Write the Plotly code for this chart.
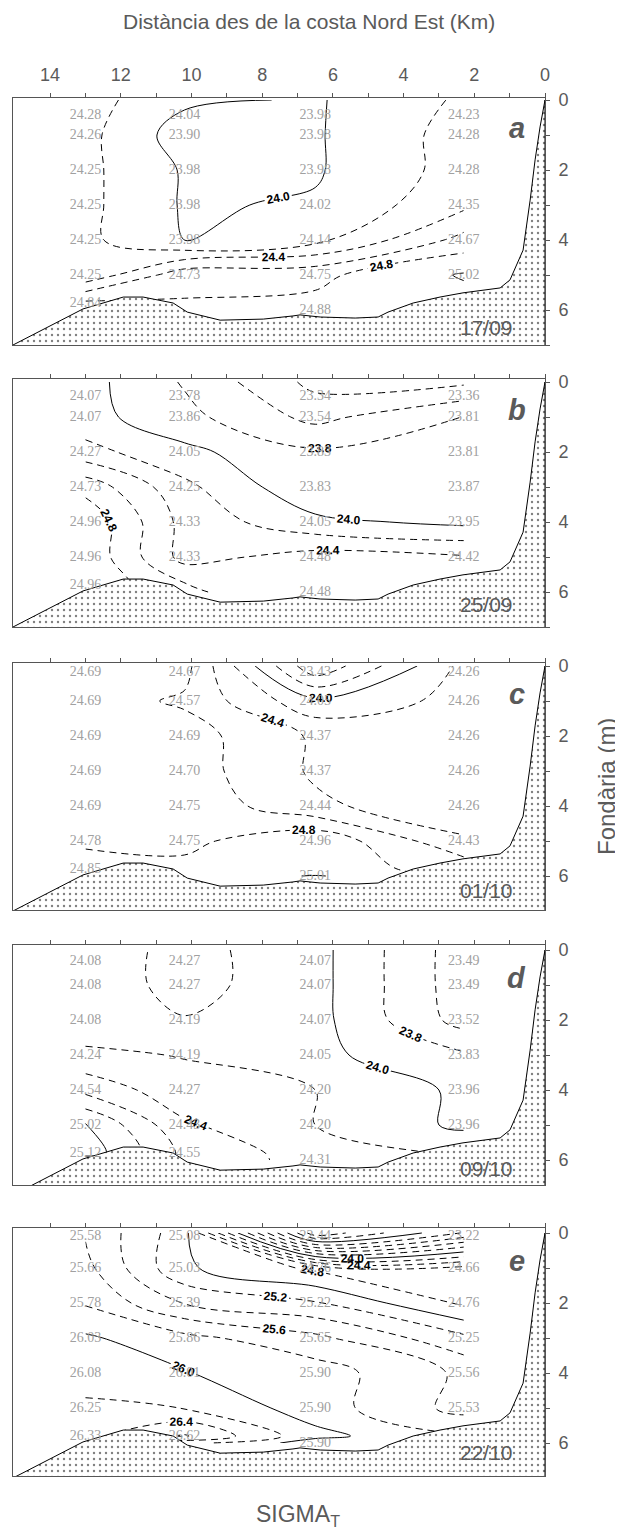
import math
import plotly.graph_objects as go

# ---------------- data ----------------
STATIONS_KM = [13.0, 10.2, 6.5, 2.3]

A_DEPTHS = [[0, 1, 2, 3, 4, 5, 5.8], [0, 1, 2, 3, 4, 5], [0, 1, 2, 3, 4, 5, 6], [0, 1, 2, 3, 4, 5]]
A_SIGMA = [[24.28, 24.26, 24.25, 24.25, 24.25, 24.25, 24.84],
           [24.04, 23.90, 23.98, 23.98, 23.98, 24.73],
           [23.98, 23.98, 23.98, 24.02, 24.14, 24.75, 24.88],
           [24.23, 24.28, 24.28, 24.35, 24.67, 25.02]]

B_DEPTHS = [[0, 1, 2, 3, 4, 5, 5.8], [0, 1, 2, 3, 4, 5], [0, 1, 2, 3, 4, 5, 6], [0, 1, 2, 3, 4, 5]]
B_SIGMA = [[24.07, 24.07, 24.27, 24.73, 24.96, 24.96, 24.96],
           [23.78, 23.86, 24.05, 24.25, 24.33, 24.33],
           [23.34, 23.54, 23.83, 23.83, 24.05, 24.48, 24.48],
           [23.36, 23.81, 23.81, 23.87, 23.95, 24.42]]

C_DEPTHS = [[0, 1, 2, 3, 4, 5, 5.8], [0, 1, 2, 3, 4, 5], [0, 1, 2, 3, 4, 5, 6], [0, 1, 2, 3, 4, 5]]
C_SIGMA = [[24.69, 24.69, 24.69, 24.69, 24.69, 24.78, 24.85],
           [24.67, 24.57, 24.69, 24.70, 24.75, 24.75],
           [23.43, 24.05, 24.37, 24.37, 24.44, 24.96, 25.01],
           [24.26, 24.26, 24.26, 24.26, 24.26, 24.43]]

D_DEPTHS = [[0, 1, 2, 3, 4, 5, 5.8], [0, 1, 2, 3, 4, 5, 5.8], [0, 1, 2, 3, 4, 5, 6], [0, 1, 2, 3, 4, 5]]
D_SIGMA = [[24.08, 24.08, 24.08, 24.24, 24.54, 25.02, 25.12],
           [24.27, 24.27, 24.19, 24.19, 24.27, 24.43, 24.55],
           [24.07, 24.07, 24.07, 24.05, 24.20, 24.20, 24.31],
           [23.49, 23.49, 23.52, 23.83, 23.96, 23.96]]

E_DEPTHS = [[0, 1, 2, 3, 4, 5, 5.8], [0, 1, 2, 3, 4, 5.8], [0, 1, 2, 3, 4, 5, 6], [0, 1, 2, 3, 4, 5]]
E_SIGMA = [[25.58, 25.66, 25.78, 26.03, 26.08, 26.25, 26.33],
           [25.08, 25.03, 25.39, 25.86, 26.01, 26.62],
           [22.44, 24.76, 25.22, 25.65, 25.90, 25.90, 25.90],
           [23.22, 24.66, 24.76, 25.25, 25.56, 25.53]]

LETTERS = ["a", "b", "c", "d", "e"]
DATES = ["17/09", "25/09", "01/10", "09/10", "22/10"]
LABELLED_LEVELS = [[24.0, 24.4, 24.8],
                   [23.8, 24.0, 24.4, 24.8],
                   [24.0, 24.4, 24.8],
                   [23.8, 24.0, 24.4],
                   [24.0, 24.4, 24.8, 25.2, 25.6, 26.0, 26.4]]

# sea bottom profile (km from NE coast, depth m)
BOTTOM_KM = [15.05, 13.07, 11.93, 11.37, 10.52, 10.12, 9.19, 7.97, 7.13, 6.93, 6.36, 5.37,
             4.72, 4.44, 3.73, 2.97, 2.32, 1.27, 0.99, 0.62, 0.42, 0.28, 0.14, 0.0]
BOTTOM_DEPTH = [7.0, 5.97, 5.63, 5.63, 5.8, 6.06, 6.29, 6.26, 6.17, 6.14, 6.2, 6.23,
                6.2, 6.06, 5.8, 5.63, 5.51, 5.37, 5.14, 4.29, 2.86, 1.71, 0.77, 0.0]

X_MAJOR = [0, 2, 4, 6, 8, 10, 12, 14]
X_MINOR = [1, 3, 5, 7, 9, 11, 13]
Y_MAJOR = [0, 2, 4, 6]
Y_MINOR = [1, 3, 5, 7]

# ---------------- layout geometry (reference pixel coords) ----------------
OFF = 8                      # page body margin of the rendered html
REF_W, REF_H = 623, 1535
W, H = REF_W - OFF, REF_H - OFF
PLOT_L, PLOT_R, PLOT_T, PLOT_B = 13, 545, 98, 1476
ML, MR, MT, MB = PLOT_L - OFF, REF_W - PLOT_R, PLOT_T - OFF, REF_H - PLOT_B
PH = PLOT_B - PLOT_T
PW = PLOT_R - PLOT_L
# (top px, bottom px, zero-depth px) per panel
PANEL_PX = [(98, 345, 100), (379, 627, 382), (663, 910, 666), (945, 1185, 950), (1228, 1476, 1233)]
PX_PER_M = 35.0
SURF_LABEL_DEPTH = [0.43, 0.40, 0.18, 0.32, 0.09]
DATE_Y = [6.5, 6.36, 6.42, 6.25, 6.28]
X_RANGE = [15.05, 0]


def px_x(px):
    return (px - PLOT_L) / PW


def px_y(py):
    return (PLOT_B - py) / PH


panels = [(A_DEPTHS, A_SIGMA), (B_DEPTHS, B_SIGMA), (C_DEPTHS, C_SIGMA),
          (D_DEPTHS, D_SIGMA), (E_DEPTHS, E_SIGMA)]

GRAY = "#5a5a5a"
SANS = "Liberation Sans"
fig = go.Figure()
layout = dict(width=W, height=H, margin=dict(l=ML, r=MR, t=MT, b=MB, autoexpand=False),
              paper_bgcolor="white", plot_bgcolor="white", showlegend=False,
              hovermode=False, annotations=[])

for i, (depths, sigma) in enumerate(panels):
    n = i + 1
    xa = "x" if n == 1 else f"x{n}"
    ya = "y" if n == 1 else f"y{n}"
    top, bot, zero = PANEL_PX[i]
    y_top = (top - zero) / PX_PER_M
    y_bot = (bot - zero) / PX_PER_M

    xs, ys, zs = [], [], []
    for k, km in enumerate(STATIONS_KM):
        for d, v in zip(depths[k], sigma[k]):
            xs.append(km); ys.append(d); zs.append(v)
    lo = math.ceil(min(zs) / 0.2 - 1e-9)
    hi = math.floor(max(zs) / 0.2 + 1e-9)
    for m in range(lo, hi + 1):
        lev = round(m * 0.2, 1)
        solid = abs(lev - round(lev)) < 1e-6
        lab = any(abs(lev - L) < 1e-6 for L in LABELLED_LEVELS[i])
        fig.add_trace(go.Contour(
            x=xs, y=ys, z=zs, xaxis=xa, yaxis=ya,
            autocontour=False,
            contours=dict(start=lev, end=lev, size=0.2, coloring="none",
                          showlabels=lab, labelformat=".1f",
                          labelfont=dict(family=SANS, size=12, color="black", weight="bold")),
            line=dict(color="black", width=1, dash="solid" if solid else "7px,5px", smoothing=1),
            showscale=False, hoverinfo="skip"))

    # sea bottom with dotted fill
    poly_x = BOTTOM_KM + [0.0, X_RANGE[0]]
    poly_y = BOTTOM_DEPTH + [y_bot + 0.5, y_bot + 0.5]
    fig.add_trace(go.Scatter(
        x=poly_x, y=poly_y, xaxis=xa, yaxis=ya, mode="lines",
        line=dict(color="black", width=1), fill="toself", fillcolor="white",
        fillpattern=dict(shape=".", size=6, solidity=0.12, fgcolor="black", bgcolor="white"),
        hoverinfo="skip"))

    # station values
    tx, ty, tt = [], [], []
    for k, km in enumerate(STATIONS_KM):
        for d, v in zip(depths[k], sigma[k]):
            tx.append(km)
            ty.append(d if d > 0 else SURF_LABEL_DEPTH[i])
            tt.append(f"{v:.2f}")
    fig.add_trace(go.Scatter(
        x=tx, y=ty, text=tt, mode="text", xaxis=xa, yaxis=ya,
        textfont=dict(family="Liberation Serif", size=14, color="#a0a0a0"),
        hoverinfo="skip"))

    dom = [px_y(bot), px_y(top)]
    layout["xaxis" if n == 1 else f"xaxis{n}"] = dict(
        range=X_RANGE, domain=[0, 1], anchor=ya, side="top",
        showline=True, linecolor="#555", linewidth=1, mirror=True,
        ticks="outside", ticklen=4, tickcolor="#555", tickwidth=1,
        tickvals=X_MAJOR, ticktext=[str(t) for t in X_MAJOR],
        minor=dict(tickvals=X_MINOR, ticks="outside", ticklen=4, tickcolor="#555", tickwidth=1),
        showticklabels=(n == 1), ticklabelstandoff=5,
        tickfont=dict(family=SANS, size=18, color=GRAY),
        showgrid=False, zeroline=False, fixedrange=True)
    layout["yaxis" if n == 1 else f"yaxis{n}"] = dict(
        range=[y_bot, y_top], domain=dom, anchor=xa, side="right",
        showline=True, linecolor="#555", linewidth=1, mirror=True,
        ticks="outside", ticklen=4, tickcolor="#555", tickwidth=1,
        tickvals=Y_MAJOR, ticktext=[str(t) for t in Y_MAJOR],
        minor=dict(tickvals=Y_MINOR, ticks="outside", ticklen=4, tickcolor="#555", tickwidth=1),
        ticklabelstandoff=5,
        tickfont=dict(family=SANS, size=18, color=GRAY),
        showgrid=False, zeroline=False, fixedrange=True)

    layout["annotations"].append(dict(
        x=0.8, y=0.8, xref=xa, yref=ya, text=LETTERS[i], showarrow=False,
        xanchor="center", yanchor="middle",
        font=dict(family=SANS, size=29, color=GRAY, weight="bold", style="italic")))
    layout["annotations"].append(dict(
        x=0.85, y=DATE_Y[i], xref=xa, yref=ya, text=DATES[i], showarrow=False,
        xanchor="right", yanchor="middle",
        font=dict(family=SANS, size=21, color=GRAY)))

layout["annotations"].append(dict(
    x=px_x(309), y=px_y(22), xref="paper", yref="paper",
    text="Distància des de la costa Nord Est (Km)",
    showarrow=False, xanchor="center", yanchor="middle",
    font=dict(family=SANS, size=21, color=GRAY)))
layout["annotations"].append(dict(
    x=px_x(606), y=px_y(787), xref="paper", yref="paper", text="Fondària (m)",
    showarrow=False, xanchor="center", yanchor="middle", textangle=-90,
    font=dict(family=SANS, size=24, color=GRAY)))
layout["annotations"].append(dict(
    x=px_x(298), y=px_y(1515), xref="paper", yref="paper", text="SIGMA<sub>T</sub>",
    showarrow=False, xanchor="center", yanchor="middle",
    font=dict(family=SANS, size=23, color=GRAY)))

fig.update_layout(**layout)
fig.write_html("out.html")
